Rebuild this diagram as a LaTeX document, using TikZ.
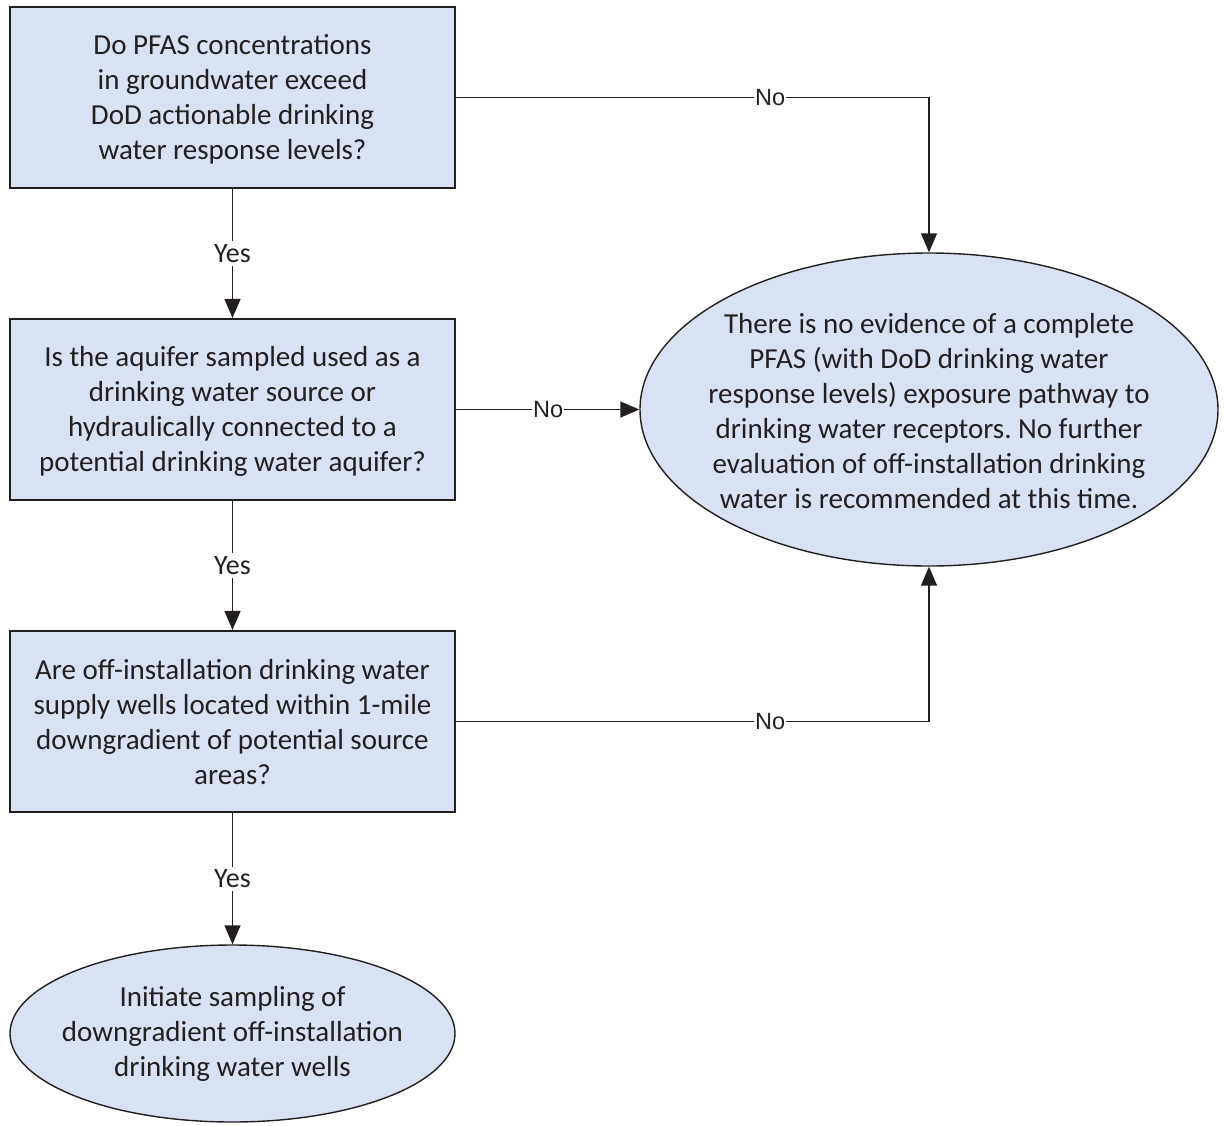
\documentclass[tikz,border=0pt]{standalone}
\usepackage{fontspec}
\setmainfont{Carlito}
\newfontfamily\lblfont{Liberation Sans}
\usetikzlibrary{shapes.geometric,arrows.meta}
\frenchspacing

\definecolor{boxfill}{HTML}{D9E2F3}
\definecolor{ink}{HTML}{231F20}

\tikzset{
  qbox/.style={draw=ink, line width=2.2pt, fill=boxfill, minimum width=445pt,
    minimum height=181pt, inner sep=0pt},
  endoval/.style={ellipse, draw=ink, line width=1.4pt, fill=boxfill, inner sep=0pt},
  txt/.style={align=center, text=ink, font=\fontsize{29}{35}\selectfont, inner sep=0pt},
  flow/.style={draw=ink, line width=1.5pt, -{Triangle[width=16pt,length=19pt]}},
  nolbl/.style={fill=white, text=ink, inner sep=1pt, font=\lblfont\fontsize{23.5}{26}\selectfont},
  yeslbl/.style={fill=white, text=ink, inner sep=3pt, font=\fontsize{28}{30}\selectfont},
}

\begin{document}
\begin{tikzpicture}[x=1pt, y=-1pt]
\useasboundingbox (0,0) rectangle (1224,1125);

% decision boxes
\node[qbox] (q1) at (232.5,97.5) {};
\node[txt] (q1t) at (232.5,99) {Do PFAS concentrations\\in groundwater exceed\\DoD actionable drinking\\water response levels?};

\node[qbox] (q2) at (232.5,409.5) {};
\node[txt] (q2t) at (232.5,411) {Is the aquifer sampled used as a\\drinking water source or\\hydraulically connected to a\\potential drinking water aquifer?};

\node[qbox] (q3) at (232.5,721.5) {};
\node[txt] (q3t) at (232.5,722) {Are off-installation drinking water\\supply wells located within 1-mile\\downgradient of potential source\\areas?};

% outcomes
\node[endoval, minimum width=578pt, minimum height=313pt] (stop) at (929,409.5) {};
\node[txt] (stopt) at (929,411) {There is no evidence of a complete\\PFAS (with DoD drinking water\\response levels) exposure pathway to\\drinking water receptors. No further\\evaluation of off-installation drinking\\water is recommended at this time.};

\node[endoval, minimum width=445pt, minimum height=177pt] (samp) at (232.5,1033.5) {};
\node[txt] (sampt) at (232.5,1034) {Initiate sampling of\\downgradient off-installation\\drinking water wells};

% connectors
\draw[flow] (q1.south) -- node[yeslbl] {Yes} (q2.north);
\draw[flow] (q2.south) -- node[yeslbl] {Yes} (q3.north);
\draw[flow] (q3.south) -- node[yeslbl] {Yes} (samp.north);

\draw[flow] (q1.east) -| node[nolbl, pos=0.332] {No} (stop.north);
\draw[flow] (q2.east) -- node[nolbl, pos=0.503] {No} (stop.west);
\draw[flow] (q3.east) -| node[nolbl, pos=0.332] {No} (stop.south);
\end{tikzpicture}
\end{document}
